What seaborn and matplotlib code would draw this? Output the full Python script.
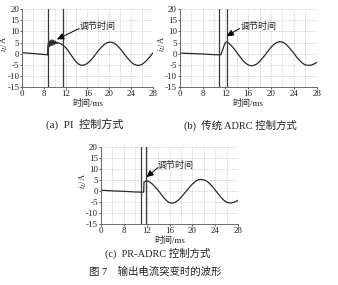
import matplotlib
matplotlib.use("Agg")
import matplotlib.pyplot as plt
import seaborn as sns
import pandas as pd

sns.set_theme(style="white")
plt.rcParams["font.family"] = ["Liberation Serif", "Noto Sans CJK SC"]
plt.rcParams["axes.unicode_minus"] = False
plt.rcParams["mathtext.fontset"] = "stix"

# x positions run 4..28 on the drawn axis; the tick text below is what is printed
x_tick_pos = [4, 8, 12, 16, 20, 24, 28]
x_tick_labels = ["0", "8", "12", "16", "20", "24", "28"]
y_tick_pos = [-15, -10, -5, 0, 5, 10, 15, 20]
y_tick_labels = ["-15", "-10", "-5", "0", "5", "10", "15", "20"]

# (a) PI control
t_pi = [4, 5, 6, 7, 8, 8.7, 8.75, 8.9, 9.05, 9.2, 9.35, 9.5, 9.65, 9.8, 9.95,
        10.1, 10.25, 10.4, 10.55, 10.7, 11.0, 11.5, 12.0, 12.5, 13.0, 13.5,
        14.0, 14.5, 15.0, 15.5, 16.0, 16.5, 17.0, 17.5, 18.0, 18.5, 19.0,
        19.5, 20.0, 20.5, 21.0, 21.5, 22.0, 22.5, 23.0, 23.5, 24.0, 24.5,
        25.0, 25.5, 26.0, 26.5, 27.0, 27.5, 28.0]
i_pi = [0.5, 0.3, 0.1, -0.1, -0.3, -0.5, 3.5, 5.5, 3.2, 6.0, 3.6, 6.2, 3.8,
        6.0, 4.2, 5.6, 4.5, 5.2, 4.6, 4.9, 4.6, 3.8, 2.8, 1.3, -0.5, -2.3,
        -3.8, -4.8, -5.2, -5.0, -4.3, -3.2, -1.9, -0.3, 1.3, 2.7, 3.9,
        4.8, 5.2, 5.1, 4.6, 3.6, 2.3, 0.8, -0.8, -2.3, -3.6, -4.6,
        -5.1, -5.2, -4.8, -3.9, -2.7, -1.3, 0.3]
lines_pi = [8.7, 11.5]

# (b) conventional ADRC
t_adrc = [4, 6, 8, 10, 11.2, 11.5, 11.75, 12.0, 12.2, 12.5, 13.0, 13.5, 14.0,
          14.5, 15.0, 15.5, 16.0, 16.5, 17.0, 17.5, 18.0, 18.5, 19.0, 19.5,
          20.0, 20.5, 21.0, 21.5, 22.0, 22.5, 23.0, 23.5, 24.0, 24.5, 25.0,
          25.5, 26.0, 26.5, 27.0, 27.5, 28.0]
i_adrc = [0.3, 0.1, -0.1, -0.4, -0.5, 1.5, 3.5, 5.0, 5.3, 4.9, 3.8, 2.3, 0.6,
          -1.1, -2.8, -4.1, -5.0, -5.4, -5.2, -4.6, -3.5, -2.0, -0.4, 1.3,
          2.9, 4.2, 5.0, 5.4, 5.2, 4.5, 3.3, 1.8, 0.2, -1.5, -3.0,
          -4.2, -5.0, -5.2, -5.1, -4.6, -3.9]
lines_adrc = [10.95, 12.35]

# (c) PR-ADRC
t_pr = [4, 6, 8, 10, 11.5, 11.55, 11.75, 11.9, 12.1, 12.5, 13.0, 13.5, 14.0,
        14.5, 15.0, 15.5, 16.0, 16.5, 17.0, 17.5, 18.0, 18.5, 19.0, 19.5,
        20.0, 20.5, 21.0, 21.5, 22.0, 22.5, 23.0, 23.5, 24.0, 24.5, 25.0,
        25.5, 26.0, 26.5, 27.0, 27.5, 28.0]
i_pr = [0.5, 0.2, 0.0, -0.3, -0.4, 4.2, 4.4, 4.8, 4.7, 4.3, 3.3, 2.0, 0.5,
        -1.2, -2.9, -4.3, -5.2, -5.4, -5.0, -4.1, -2.8, -1.3, 0.3, 1.9,
        3.3, 4.5, 5.2, 5.4, 5.2, 4.6, 3.5, 2.1, 0.5, -1.2, -2.8,
        -4.1, -5.0, -5.3, -5.2, -4.7, -4.0]
lines_pr = [11.05, 11.9]

titles = ["(a)  PI  控制方式", "(b)  传统 ADRC 控制方式", "(c)  PR-ADRC 控制方式"]
caption = "图 7    输出电流突变时的波形"
note = "调节时间"

W, H = 338, 285
fig = plt.figure(figsize=(W / 100, H / 100), dpi=100)


def box(l, t, r, b):
    return [l / W, 1 - b / H, (r - l) / W, (b - t) / H]


panels = [
    (box(22, 9, 152.7, 87.3), t_pi, i_pi, lines_pi,
     (14.6, 12.4), (14.5, 11.3), (10.4, 6.4)),
    (box(179.7, 9, 316.7, 87.3), t_adrc, i_adrc, lines_adrc,
     (14.6, 12.4), (14.5, 11.3), (12.2, 7.8)),
    (box(100.7, 147.3, 238.3, 224.3), t_pr, i_pr, lines_pr,
     (14.0, 11.8), (14.0, 10.8), (11.95, 6.4)),
]

for rect, tt, ii, vl, txt_xy, tail, head in panels:
    ax = fig.add_axes(rect)
    ax.set_xlim(4, 28)
    ax.set_ylim(-15, 20)
    for gx in range(4, 29, 2):
        ax.axvline(gx, color="#b0b0b0", lw=0.5, ls=(0, (1, 1.5)), zorder=0)
    for gy in range(-15, 21, 5):
        ax.axhline(gy, color="#b0b0b0", lw=0.5, ls=(0, (1, 1.5)), zorder=0)
    df = pd.DataFrame({"t": tt, "i": ii})
    sns.lineplot(data=df, x="t", y="i", ax=ax, color="#2a2a2a", lw=0.9,
                 estimator=None, sort=False)
    for v in vl:
        ax.axvline(v, color="#3a3a3a", lw=0.9, zorder=3)
    ax.annotate("", xy=head, xytext=tail,
                arrowprops=dict(arrowstyle="-|>,head_length=0.35,head_width=0.16",
                                color="black", lw=0.7, shrinkA=0, shrinkB=0))
    ax.text(txt_xy[0], txt_xy[1], note, fontsize=6.5, ha="left", va="center",
            family=["Noto Sans CJK SC"], color="#222222")
    ax.set_xticks(x_tick_pos)
    ax.set_xticklabels(x_tick_labels)
    ax.set_yticks(y_tick_pos)
    ax.set_yticklabels(y_tick_labels)
    ax.tick_params(axis="both", labelsize=6.5, length=1.5, width=0.5, pad=0.5,
                   colors="#222222", direction="out", left=True, bottom=True)
    for s in ["top", "right"]:
        ax.spines[s].set_visible(False)
    for s in ["left", "bottom"]:
        ax.spines[s].set_color("#555555")
        ax.spines[s].set_linewidth(0.6)
    ax.set_xlabel("时间/ms", fontsize=6.5, labelpad=1, color="#222222")
    ax.set_ylabel("$i_L$/A", fontsize=6, color="#222222")
    ax.yaxis.set_label_coords(-0.088, 0.56)

fig.text(85 / W, 1 - 125 / H, titles[0], fontsize=8, ha="center", va="center",
         color="#222222")
fig.text(240 / W, 1 - 125 / H, titles[1], fontsize=7.5, ha="center", va="center",
         color="#222222")
fig.text(158 / W, 1 - 253 / H, titles[2], fontsize=7.5, ha="center", va="center",
         color="#222222")
fig.text(155 / W, 1 - 272 / H, caption, fontsize=7.5, ha="center", va="center",
         color="#222222")

fig.savefig("out.png", dpi=100)
